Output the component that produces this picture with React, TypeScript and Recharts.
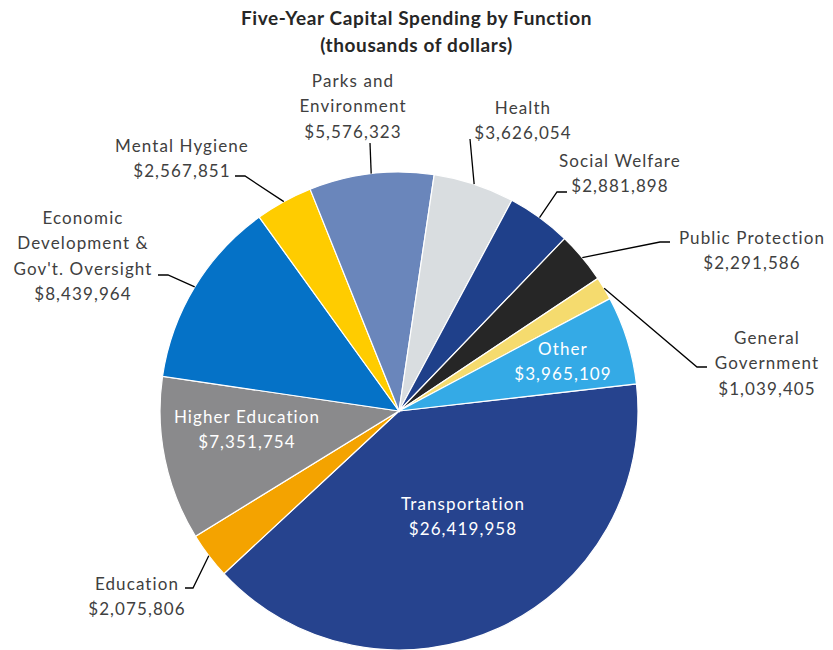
import { PieChart, Pie, Cell } from "recharts";

const categories = [
  "Transportation",
  "Education",
  "Higher Education",
  "Economic\nDevelopment &\nGov't. Oversight",
  "Mental Hygiene",
  "Parks and\nEnvironment",
  "Health",
  "Social Welfare",
  "Public Protection",
  "General\nGovernment",
  "Other",
];

const spending = [
  26419958, 2075806, 7351754, 8439964, 2567851, 5576323, 3626054, 2881898,
  2291586, 1039405, 3965109,
];

const colors = [
  "#26438E", "#F4A300", "#8A8A8C", "#0572C7", "#FFCC00", "#6A86BB",
  "#D9DDE0", "#1F408A", "#262626", "#F5DB6E", "#34AAE6",
];

const data = categories.map((name, i) => ({ name, value: spending[i] }));

// label placement relative to the pie centre: text centre x, first line y, leader stub
type Layout = { x: number; y: number; inside?: boolean; stub?: [number, number][] };
const layout: Layout[] = [
  { x: 64, y: 92, inside: true },
  { x: -262, y: 172, stub: [[-214, 177], [-206, 177]] },
  { x: -152, y: 5, inside: true },
  { x: -316, y: -194, stub: [[-241, -136], [-231, -136]] },
  { x: -217, y: -266, stub: [[-164, -235], [-154, -235]] },
  { x: -46, y: -331, stub: [[-29, -268]] },
  { x: 124, y: -304, stub: [[71, -272]] },
  { x: 221, y: -251, stub: [[168, -219], [158, -219]] },
  { x: 353, y: -174, stub: [[271, -169], [261, -169]] },
  { x: 368, y: -74, stub: [[308, -44], [298, -44]] },
  { x: 164, y: -63, inside: true },
];

const RAD = Math.PI / 180;
const LINE = 25.5;

const renderLabel = (props: any) => {
  const { cx, cy, midAngle, outerRadius, index, name, value } = props;
  const l = layout[index];
  const lines = [...String(name).split("\n"), "$" + Number(value).toLocaleString("en-US")];
  const fill = l.inside ? "#FFFFFF" : "#404040";
  let leader = null;
  if (l.stub) {
    const ex = cx + outerRadius * Math.cos(-midAngle * RAD);
    const ey = cy + outerRadius * Math.sin(-midAngle * RAD);
    const pts = [...l.stub.map(([dx, dy]) => [cx + dx, cy + dy]), [ex, ey]]
      .map((p) => p.join(","))
      .join(" ");
    leader = <polyline points={pts} fill="none" stroke="#000" strokeWidth={1.3} />;
  }
  return (
    <g key={`lbl-${index}`}>
      {leader}
      <text
        x={cx + l.x}
        y={cy + l.y}
        textAnchor="middle"
        fill={fill}
        fontSize={17}
        fontFamily="Lato, 'Open Sans', sans-serif"
        letterSpacing={1.1}
      >
        {lines.map((t, k) => (
          <tspan key={k} x={cx + l.x} y={cy + l.y + k * LINE} dominantBaseline="central">
            {t}
          </tspan>
        ))}
      </text>
    </g>
  );
};

export default function App() {
  return (
    <div style={{ width: 833, height: 650, position: "relative", background: "#fff" }}>
      <style>{"body{margin:0}"}</style>
      <div
        style={{
          position: "absolute",
          left: 0,
          top: 4,
          width: 833,
          textAlign: "center",
          fontFamily: "Lato, 'Open Sans', sans-serif",
          fontWeight: 700,
          fontSize: 19,
          letterSpacing: 0.6,
          lineHeight: "27px",
          color: "#262626",
        }}
      >
        Five-Year Capital Spending by Function
        <br />
        (thousands of dollars)
      </div>
      <PieChart
        width={833}
        height={650}
        margin={{ top: 0, right: 0, bottom: 0, left: 0 }}
        style={{ position: "absolute", left: 0, top: 0 }}
      >
        <Pie
          data={data}
          dataKey="value"
          nameKey="name"
          cx={399}
          cy={411}
          outerRadius={239}
          startAngle={6.5}
          endAngle={-353.5}
          stroke="#FFFFFF"
          strokeWidth={1.2}
          label={renderLabel}
          labelLine={false}
          isAnimationActive={false}
        >
          {data.map((d, i) => (
            <Cell key={d.name} fill={colors[i]} />
          ))}
        </Pie>
      </PieChart>
    </div>
  );
}
